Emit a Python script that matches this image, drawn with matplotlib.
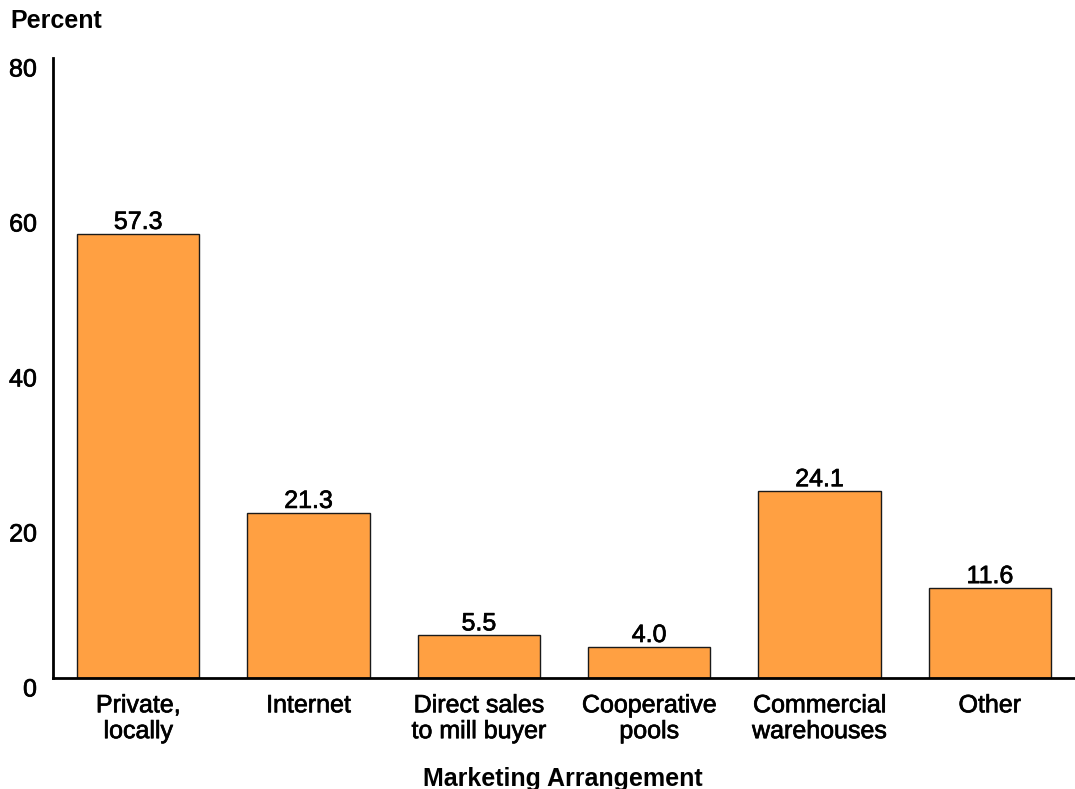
import matplotlib.pyplot as plt
import matplotlib.transforms as mtransforms
import matplotlib.patheffects as pe

plt.rcParams['font.family'] = ['Liberation Sans', 'DejaVu Sans']

categories = ['Private,\nlocally', 'Internet', 'Direct sales\nto mill buyer',
              'Cooperative\npools', 'Commercial\nwarehouses', 'Other']
values = [57.3, 21.3, 5.5, 4.0, 24.1, 11.6]
labels = ['57.3', '21.3', '5.5', '4.0', '24.1', '11.6']
yticks = [0, 20, 40, 60, 80]

# slightly heavier text, like the original export
heavy = [pe.withStroke(linewidth=0.5, foreground='black')]

fig = plt.figure(figsize=(10.75, 7.89), dpi=100)
ax = fig.add_axes([0.0493, 0.1407, 0.9507, 0.7858])

x = range(len(categories))
bars = ax.bar(x, values, width=0.72, color='#FFA042', edgecolor='#1a1a1a', linewidth=1.0)

for b, lab in zip(bars, labels):
    ax.annotate(lab, (b.get_x() + b.get_width() / 2, b.get_height()),
                xytext=(0, 0), textcoords='offset points',
                ha='center', va='bottom', fontsize=18, path_effects=heavy)

ax.set_xlim(-0.5, 5.5)
ax.set_ylim(0, 80)
ax.set_yticks(yticks)
ax.set_xticks(list(x))
ax.set_xticklabels(categories, fontsize=18, linespacing=1.1)
ax.tick_params(axis='both', length=0)
ax.tick_params(axis='x', pad=11)
ax.tick_params(axis='y', pad=11.5, labelsize=18)

# y tick labels sit a little below their gridline in the original
offset = mtransforms.ScaledTranslation(0, -9 / 100, fig.dpi_scale_trans)
for t in ax.get_yticklabels():
    t.set_transform(t.get_transform() + offset)
for t in ax.get_yticklabels() + ax.get_xticklabels():
    t.set_path_effects(heavy)

for s in ['top', 'right']:
    ax.spines[s].set_visible(False)
ax.spines['left'].set_linewidth(2)
ax.spines['bottom'].set_linewidth(2)

fig.text(0.01, 0.973, 'Percent', fontsize=18, fontweight='bold', ha='left', va='center')
fig.text(0.524, 0.013, 'Marketing Arrangement', fontsize=18, fontweight='bold',
         ha='center', va='center')

plt.savefig('out.png', dpi=100)
